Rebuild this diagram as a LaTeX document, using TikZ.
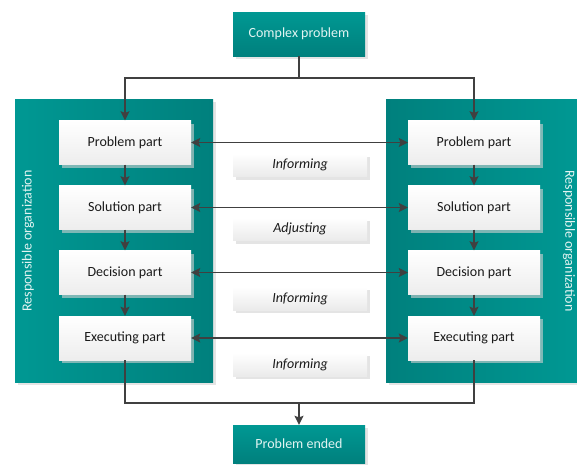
\documentclass[tikz,border=0pt]{standalone}
\usepackage{fontspec}
\setmainfont{Carlito}
\usetikzlibrary{arrows.meta,shadows}
\definecolor{tealA}{RGB}{0,152,147}
\definecolor{tealB}{RGB}{0,128,125}
\definecolor{linecol}{RGB}{64,64,64}
\definecolor{lighttext}{RGB}{226,244,242}
\definecolor{darktext}{RGB}{26,26,26}
\definecolor{shadecol}{RGB}{210,210,210}
\tikzset{
  softshadow/.style={general shadow={shadow xshift=3pt,shadow yshift=-3pt,fill=shadecol,opacity=0.6}},
  tealbox/.style={softshadow,top color=tealA,bottom color=tealB,text=lighttext,
    minimum width=132pt,minimum height=44pt,inner sep=0pt,font=\fontsize{14}{17}\selectfont},
  leftorg/.style={softshadow,left color=tealA,right color=tealB,minimum width=198pt,minimum height=283pt,inner sep=0pt},
  rightorg/.style={softshadow,left color=tealB,right color=tealA,minimum width=191pt,minimum height=283pt,inner sep=0pt},
  partbox/.style={softshadow,top color=white,bottom color=black!7,text=darktext,
    minimum width=132pt,minimum height=44pt,inner sep=0pt,font=\fontsize{14}{17}\selectfont},
  labelbox/.style={softshadow,top color=white,bottom color=black!8,text=darktext,
    minimum width=134pt,minimum height=23pt,inner sep=0pt,font=\fontsize{14}{17}\selectfont\itshape},
  orgtext/.style={text=lighttext,font=\fontsize{14}{17}\selectfont,inner sep=0pt},
  arr/.style={draw=linecol,line width=1.4pt,-{Stealth[length=9pt,width=9pt,inset=1.5pt]}},
  darr/.style={draw=linecol,line width=1.4pt,{Stealth[length=9pt,width=9pt,inset=1.5pt]}-{Stealth[length=9pt,width=9pt,inset=1.5pt]}},
  plain/.style={draw=linecol,line width=1.4pt},
}
\begin{document}
\begin{tikzpicture}[x=1pt,y=-1pt]
\useasboundingbox (0,0) rectangle (577,464);

% organisation panels
\node[leftorg] (orgL) at (114,240.5) {};
\node[rightorg] (orgR) at (481.5,240.5) {};
\node[orgtext,rotate=90] (orgLt) at (28,241) {Responsible organization};
\node[orgtext,rotate=-90] (orgRt) at (569,241) {Responsible organization};

% start and end
\node[tealbox] (cp) at (299,34) {Complex problem};
\node[tealbox,minimum height=38pt] (pe) at (299,444) {Problem ended};

% process parts, left and right
\node[partbox] (l1) at (125,142.5) {Problem part};
\node[partbox] (l2) at (125,207.5) {Solution part};
\node[partbox] (l3) at (125,272.5) {Decision part};
\node[partbox] (l4) at (125,338) {Executing part};
\node[partbox] (r1) at (474,142.5) {Problem part};
\node[partbox] (r2) at (474,207.5) {Solution part};
\node[partbox] (r3) at (474,272.5) {Decision part};
\node[partbox] (r4) at (474,338) {Executing part};

% exchange labels
\node[labelbox] (i1) at (300,165) {Informing};
\node[labelbox] (a1) at (300,229) {Adjusting};
\node[labelbox] (i2) at (300,298.5) {Informing};
\node[labelbox] (i3) at (300,364.5) {Informing};

% split and merge points
\coordinate (split) at (299,78);
\coordinate (merge) at (299,403);

\draw[plain] (cp.south) -- (split);
\draw[arr] (split) -| (l1.north);
\draw[arr] (split) -| (r1.north);

\foreach \a/\b in {l1/l2,l2/l3,l3/l4,r1/r2,r2/r3,r3/r4}
  \draw[arr] (\a.south) -- (\b.north);

\foreach \k in {1,2,3,4}
  \draw[darr] (l\k.east) -- (r\k.west);

\draw[plain] (l4.south) |- (merge);
\draw[plain] (r4.south) |- (merge);
\draw[arr] (merge) -- (pe.north);
\end{tikzpicture}
\end{document}
